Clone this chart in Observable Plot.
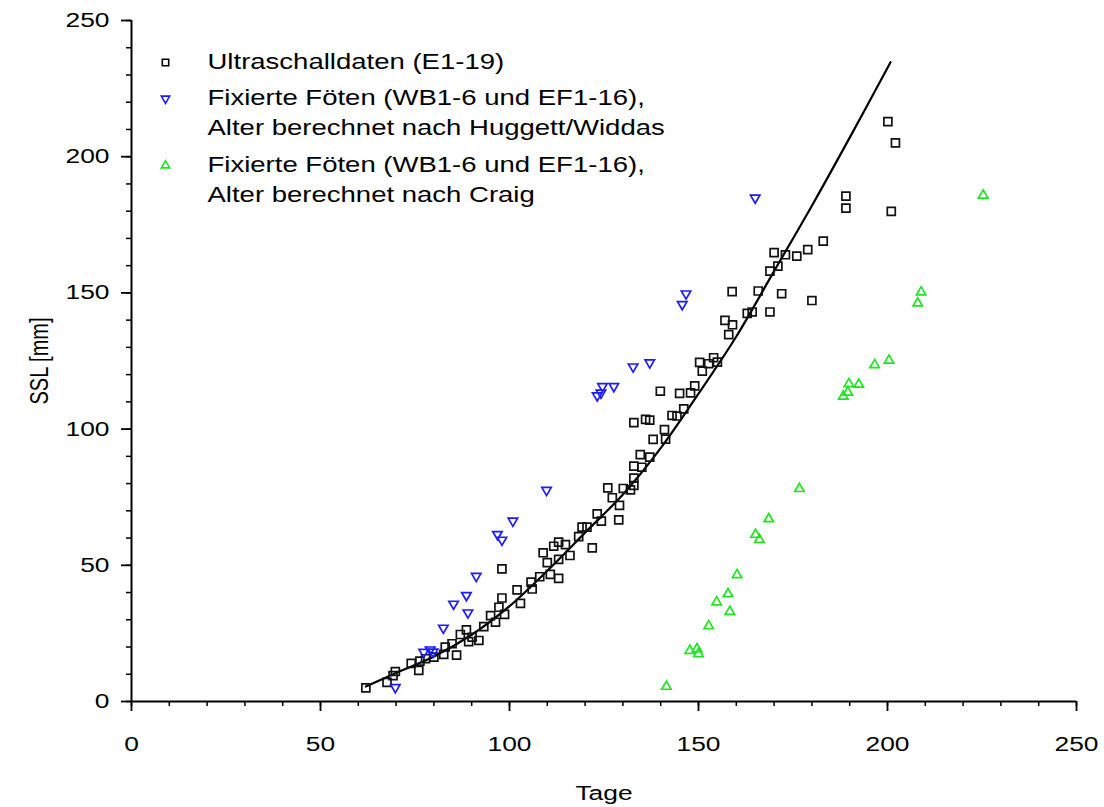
<!DOCTYPE html>
<html><head><meta charset="utf-8">
<script src="https://cdn.jsdelivr.net/npm/d3@7"></script>
<script src="https://cdn.jsdelivr.net/npm/@observablehq/plot@0.6"></script>
<style>body{margin:0;background:#fff} #chart{width:1104px}</style>
</head><body><div id="chart"></div>
<script>
// Ultraschalldaten (E1-19)
const usX = [62,67.6,69.2,69.8,74,76,76.3,77.8,80,82.6,83,86,84.8,87,88.6,89.2,90.1,91.9,93.2,95,96.3,97.2,98,98.7,98,102,102.9,105.7,106,108,108.9,110,110.8,111.7,113,113,113,114.8,116,118.3,119.2,120.5,121.9,123.2,124.3,126,127.2,129.1,128.9,130.1,132.9,132.9,132.9,135,134.6,137.1,138,141.3,141,132.9,136,137.1,143,144.3,146.1,139.9,145,147.9,149,150.3,151,152.7,154,155,157,159,158,158.9,162.9,164.2,165.8,168.9,168.9,171,170,173,176,178.9,183,172,180,189,189,200.1,202.1,201,132];
const usY = [5,7,9.5,11,14,11.4,14.8,15.7,16.3,17.3,20,17,21.2,24.6,26.3,22,23.6,22.4,27.5,31.5,29.1,34.6,38,32,48.7,41,36,43.8,41.3,45.8,54.6,51,46.7,57,58.5,52.2,45.2,57.6,53.6,60.5,64,64,56.4,68.9,66.2,78.4,74.8,72,66.7,78.2,79.3,82,86.4,86,90.6,89.7,96.2,96.3,99.8,102.4,103.6,103.3,105,104.8,107.4,113.9,113.1,113.3,115.9,124.5,121.3,124,126.2,124.6,139.9,138.3,134.7,150.5,142.5,143,150.7,143,158,159.8,164.8,164,163.5,165.9,169,149.7,147.2,185.5,181.1,212.9,205.1,179.9,77.7];
// Fixierte Föten, Alter nach Huggett/Widdas
const hwX = [69.8,77.3,79,79.8,82.5,85.2,88.6,89,91.2,96.8,98,100.9,109.8,123.2,124.2,124.6,127.6,132.7,137.1,145.7,146.7,165];
const hwY = [5.2,18.1,19,18.2,27,35.8,39,32.6,46,61.4,59.3,66.3,77.6,112.3,113.3,115.7,115.7,122.9,124.4,145.8,149.7,184.9];
// Fixierte Föten, Alter nach Craig
const crX = [141.5,147.7,149.6,150,152.7,154.8,157.8,158.3,160.2,165.1,166.1,168.6,176.7,188.3,189.5,189.8,192.4,196.6,200.4,208,208.9,225.3];
const crY = [5.5,18.7,19.3,17.5,27.7,36.5,39.5,33,46.5,61.3,59.4,67,78.1,112,113.5,116.6,116.4,123.6,125.2,146.2,150.3,185.8];
// Regressionskurve
const fitX = [62,70,80,90,100,110,120,130,140,150,160,170,180,190,200.8];
const fitY = [5.5,10.5,16.5,24.5,35,48,62,76,93,113,134,158,182,207,234.7];

const majorTicks = [0,50,100,150,200,250];
const minorTicks = [0,10,20,30,40,50,60,70,80,90,100,110,120,130,140,150,160,170,180,190,200,210,220,230,240,250];
const legendLabels = [
  ["Ultraschalldaten (E1-19)"],
  ["Fixierte Föten (WB1-6 und EF1-16),", "Alter berechnet nach Huggett/Widdas"],
  ["Fixierte Föten (WB1-6 und EF1-16),", "Alter berechnet nach Craig"]
];
const xLabel = "Tage", yLabel = "SSL [mm]";

const s3 = Math.sqrt(3);
const triDown = {draw(ctx, size) {
  const y = -Math.sqrt(size / (s3 * 3));
  ctx.moveTo(0, -2 * y); ctx.lineTo(s3 * y, y); ctx.lineTo(-s3 * y, y); ctx.closePath();
}};
const blue = "#1c1cff", green = "#1ee61e";
const legendSym = [
  {symbol: "square", stroke: "black", r: 3.6},
  {symbol: triDown, stroke: blue, r: 3.1},
  {symbol: "triangle", stroke: green, r: 3.1}
];
const legendTops = [42, 78, 145];

const legendMarks = [];
legendLabels.forEach((lines, i) => {
  legendMarks.push(Plot.dot([0], {frameAnchor: "top-left", dx: 34, dy: legendTops[i], symbol: legendSym[i].symbol, r: legendSym[i].r, stroke: legendSym[i].stroke, strokeWidth: 1.6, fill: "none"}));
  lines.forEach((line, j) => {
    legendMarks.push(Plot.text([line], {text: d => d, frameAnchor: "top-left", dx: 76, dy: legendTops[i] + j * 30, textAnchor: "start", lineAnchor: "middle", fontSize: 21.5, fill: "black", className: "lg"}));
  });
});

const chart = Plot.plot({
  width: 1104, height: 807,
  marginLeft: 131, marginRight: 28, marginTop: 20, marginBottom: 106,
  style: {fontFamily: "'Liberation Sans', Arial, sans-serif", background: "white", color: "black"},
  x: {domain: [0, 250], axis: null},
  y: {domain: [0, 250], axis: null},
  marks: [
    Plot.axisX(minorTicks, {tickSize: 5, tickFormat: () => "", strokeWidth: 1.5, label: null}),
    Plot.axisX(majorTicks, {tickSize: 10, tickPadding: 25, fontSize: 20, strokeWidth: 1.8, label: null}),
    Plot.axisY(minorTicks, {tickSize: 5, tickFormat: () => "", strokeWidth: 1.5, label: null}),
    Plot.axisY(majorTicks, {tickSize: 10, tickPadding: 12, fontSize: 20, strokeWidth: 1.8, label: null}),
    Plot.ruleX([0], {strokeWidth: 2}),
    Plot.ruleY([0], {strokeWidth: 2}),
    Plot.line(fitX, {x: fitX, y: fitY, curve: "catmull-rom", stroke: "black", strokeWidth: 2.2}),
    Plot.dot(usX, {x: usX, y: usY, symbol: "square", r: 4.5, stroke: "#111", strokeWidth: 1.7, fill: "none"}),
    Plot.dot(hwX, {x: hwX, y: hwY, symbol: triDown, r: 3.5, stroke: blue, strokeWidth: 1.7, fill: "none"}),
    Plot.dot(crX, {x: crX, y: crY, symbol: "triangle", r: 3.5, stroke: green, strokeWidth: 1.7, fill: "none"}),
    ...legendMarks,
    Plot.text([xLabel], {text: d => d, frameAnchor: "bottom", dy: 92, lineAnchor: "middle", fontSize: 20}),
    Plot.text([yLabel], {text: d => d, frameAnchor: "left", dx: -92, rotate: -90, textAnchor: "middle", lineAnchor: "middle", fontSize: 20})
  ]
});
document.getElementById("chart").appendChild(chart);
// stretch glyphs horizontally to match the reference proportions
chart.querySelectorAll("text").forEach(t => {
  const tr = t.getAttribute("transform");
  if (!tr) return;
  if (tr.includes("rotate")) { t.setAttribute("transform", tr + " scale(1,1.32)"); return; }
  const k = t.closest(".lg") ? 1.28 : 1.32;
  t.setAttribute("transform", tr + ` scale(${k},1)`);
});
</script></body></html>
